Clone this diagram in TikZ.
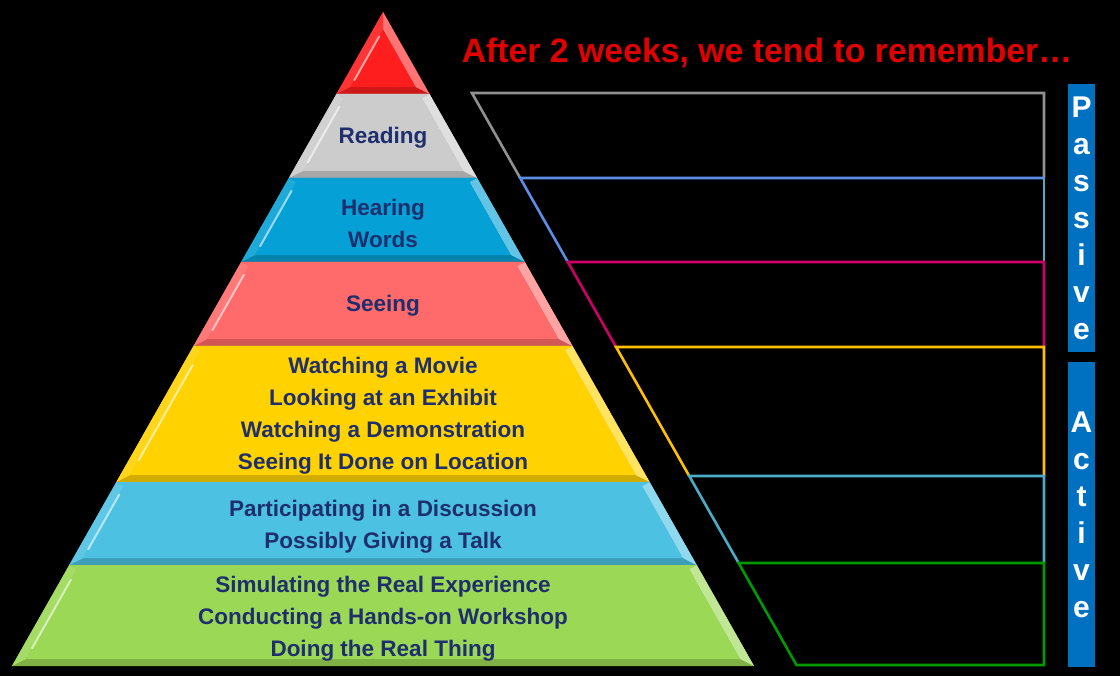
\documentclass[tikz,border=0pt]{standalone}
\usepackage{fontspec}
\setmainfont{Liberation Sans}
\usetikzlibrary{calc}

\definecolor{tipred}{HTML}{FF1E1E}
\definecolor{laygray}{HTML}{CCCCCC}
\definecolor{layblue}{HTML}{05A0D5}
\definecolor{laysalmon}{HTML}{FF6A6A}
\definecolor{layyellow}{HTML}{FFD200}
\definecolor{laycyan}{HTML}{4CC1E2}
\definecolor{laygreen}{HTML}{9BD855}
\definecolor{textnavy}{HTML}{1F2F6E}
\definecolor{titlered}{HTML}{E00000}
\definecolor{bargray}{HTML}{909090}
\definecolor{barblueline}{HTML}{5B8CE6}
\definecolor{barcyan}{HTML}{4BACC6}
\definecolor{barmagenta}{HTML}{CC0066}
\definecolor{baryellow}{HTML}{FFC000}
\definecolor{bargreen}{HTML}{009A00}
\definecolor{sideblue}{HTML}{0070C0}

% slope of the pyramid flanks (horizontal change per unit of height)
\def\slope{0.5673}

% one bevelled pyramid layer: name, top y, inner top y, bottom y, colour
\newcommand\pyrlayer[5]{%
  \pgfmathsetmacro\otl{383-\slope*(#2-12)}%
  \pgfmathsetmacro\otr{766-\otl}%
  \pgfmathsetmacro\obl{383-\slope*(#4-12)}%
  \pgfmathsetmacro\obr{766-\obl}%
  \pgfmathsetmacro\itl{383-\slope*(#3-12)+10}%
  \pgfmathsetmacro\itr{766-\itl}%
  \pgfmathsetmacro\ib{#4-7}%
  \pgfmathsetmacro\ibl{383-\slope*(\ib-12)+10}%
  \pgfmathsetmacro\ibr{766-\ibl}%
  \fill[#5!82!black] (\otl,#2) -- (\otr,#2) -- (\obr,#4) -- (\obl,#4) -- cycle;
  \fill[#5!90!white] (\otl,#2) -- (\itl,#3) -- (\ibl,\ib) -- (\obl,#4) -- cycle;
  \fill[#5!62!white] (\otr,#2) -- (\itr,#3) -- (\ibr,\ib) -- (\obr,#4) -- cycle;
  \fill[#5] (\otl,#2) -- (\otr,#2) -- (\itr,#3) -- (\itl,#3) -- cycle;
  \fill[#5] (\itl,#3) -- (\itr,#3) -- (\ibr,\ib) -- (\ibl,\ib) -- cycle;
  \draw[#5!40!white, line width=2pt, line cap=round]
    ($(\itl,#3)!0.12!(\ibl,\ib)$) -- ($(\itl,#3)!0.88!(\ibl,\ib)$);
  \coordinate (#1) at (383,{(#2+#4)/2});
}

% a point on the slanted edge of the outline bands
\newcommand\bandpt[2]{%
  \pgfmathsetmacro\sxv{426+\slope*(#2-12)}%
  \coordinate (s#1) at (\sxv,#2);
  \coordinate (r#1) at (1044,#2);
}

\tikzset{
  lbl/.style={text=textnavy, font=\bfseries\fontsize{22.5}{32}\selectfont, align=center, inner sep=0pt},
  band/.style={line width=2.6pt, line join=miter},
  sidebar/.style={fill=sideblue, text=white, minimum width=27pt, inner sep=0pt,
    font=\bfseries\fontsize{30}{37}\selectfont, align=center},
  heading/.style={text=titlered, font=\bfseries\fontsize{33.8}{38}\selectfont, inner sep=0pt}
}

\begin{document}
\begin{tikzpicture}[x=1pt,y=-1pt]
\fill[black] (0,0) rectangle (1120,676);
\useasboundingbox (0,0) rectangle (1120,676);

% pyramid layers, top to bottom
\pyrlayer{Ltip}{12}{29.63}{94}{tipred}
\pyrlayer{Lread}{94}{98}{178}{laygray}
\pyrlayer{Lhear}{178}{182}{262}{layblue}
\pyrlayer{Lsee}{262}{266}{346}{laysalmon}
\pyrlayer{Lwatch}{346}{350}{482}{layyellow}
\pyrlayer{Ldisc}{482}{486}{565}{laycyan}
\pyrlayer{Ldo}{565}{569}{666}{laygreen}

% layer labels
\node[lbl] (tread) at (383,138) {Reading};
\node[lbl] (thear) at (383,223) {Hearing\\Words};
\node[lbl] (tsee) at (383,306) {Seeing};
\node[lbl] (twatch) at (383,416) {Watching a Movie\\Looking at an Exhibit\\Watching a Demonstration\\Seeing It Done on Location};
\node[lbl] (tdisc) at (383,527) {Participating in a Discussion\\Possibly Giving a Talk};
\node[lbl] (tdo) at (383,619) {Simulating the Real Experience\\Conducting a Hands-on Workshop\\Doing the Real Thing};

% outline bands on the right
\bandpt{1}{93}
\bandpt{2}{178}
\bandpt{3}{262}
\bandpt{4}{347}
\bandpt{5}{476}
\bandpt{6}{563}
\bandpt{7}{665}
\draw[band, bargray] (s2) -- (s1) -- (r1) -- (r2);
\draw[band, barblueline] (s3) -- (s2) -- (r2);
\draw[band, barcyan] (r2) -- (r3);
\draw[band, barmagenta] (s4) -- (s3) -- (r3) -- (r4);
\draw[band, baryellow] (s5) -- (s4) -- (r4) -- (r5);
\draw[band, barcyan] (s6) -- (s5) -- (r5) -- (r6);
\draw[band, bargreen] (s6) -- (r6) -- (r7) -- (s7) -- cycle;

% side bars
\node[sidebar, minimum height=268pt] (passive) at (1081.5,218) {P\\a\\s\\s\\i\\v\\e};
\node[sidebar, minimum height=305pt] (active) at (1081.5,514.5) {A\\c\\t\\i\\v\\e};

% heading
\node[heading, anchor=base] (title) at (767,63) {After 2 weeks, we tend to remember…};
\end{tikzpicture}
\end{document}
